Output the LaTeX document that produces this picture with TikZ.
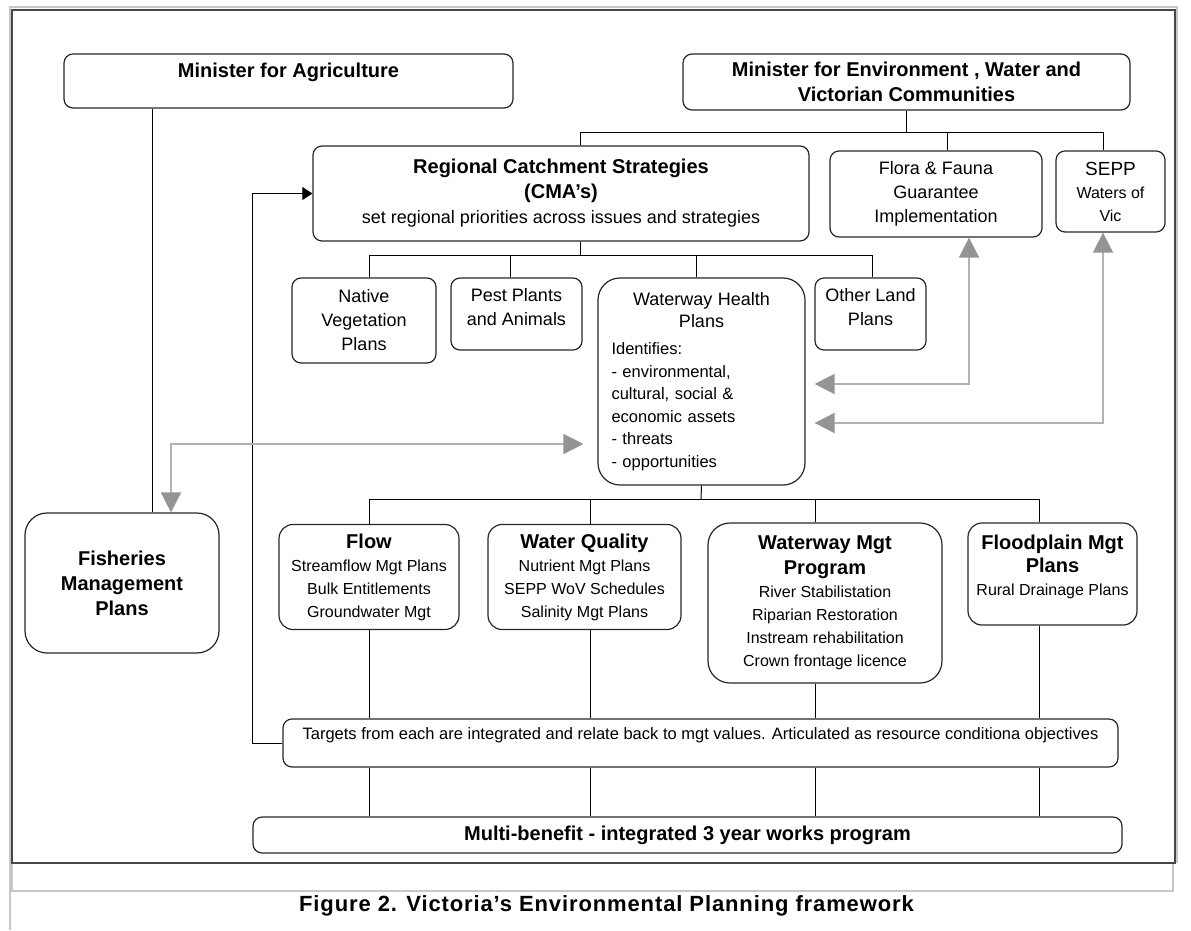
\documentclass[tikz,border=0pt]{standalone}
\usepackage{fontspec}
\setmainfont{Liberation Sans}
\usetikzlibrary{arrows.meta}

\newcommand\headtxt[1]{{\fontsize{20}{25}\selectfont\bfseries #1}}
\newcommand\bodytxt[1]{{\fontsize{18}{24}\selectfont\mdseries #1}}

\begin{document}
\begin{tikzpicture}[
x=1pt, y=-1pt,
box/.style={draw=black!85, line width=1.2pt, rounded corners=9pt, inner sep=0pt, align=center},
soft/.style={box, rounded corners=22pt},
link/.style={draw=black, line width=1pt},
duo/.style={draw=black!30, line width=1.6pt, {Triangle[length=20pt,width=20pt,color=black!42]}-{Triangle[length=20pt,width=20pt,color=black!42]}},
back/.style={draw=black, line width=1pt, -{Triangle[length=10pt,width=13pt]}},
head/.style={font=\fontsize{20}{25}\selectfont\bfseries},
body/.style={font=\fontsize{18}{24}\selectfont},
small/.style={font=\fontsize{16}{23}\selectfont}
]
\useasboundingbox (0,0) rectangle (1191,930);
\draw[black!22, line width=2pt] (10,930) -- (10,7) -- (1177,7) -- (1177,863);
\draw[black!22, line width=2pt] (12,863) -- (12,891) -- (1173,891) -- (1173,863);
\draw[black!72, line width=2pt] (12,10) rectangle (1175,863);

\node[box, head, minimum width=449pt, minimum height=54pt, text depth=22pt] (agri) at (288.5,81) {Minister for Agriculture};
\node[box, head, minimum width=447pt, minimum height=56pt] (env) at (906.5,82) {Minister for Environment , Water and\\Victorian Communities};
\node[box, font=\fontsize{20}{25}\selectfont, minimum width=496pt, minimum height=95pt] (rcs) at (561,193.5) {\headtxt{Regional Catchment Strategies}\\\headtxt{(CMA's)}\\\bodytxt{set regional priorities across issues and strategies}};
\node[box, body, minimum width=212pt, minimum height=86pt] (flora) at (936,194) {Flora \& Fauna\\Guarantee\\Implementation};
\node[box, small, minimum width=109pt, minimum height=81pt] (sepp) at (1110.5,191.5) {{\fontsize{19}{22}\selectfont SEPP}\\Waters of\\Vic};
\node[box, body, minimum width=144pt, minimum height=85pt] (native) at (364,320.5) {Native\\Vegetation\\Plans};
\node[box, body, minimum width=131pt, minimum height=72pt, text depth=15pt] (pest) at (516.5,314) {Pest Plants\\and Animals};
\node[soft, minimum width=207pt, minimum height=207pt, text width=180pt, align=left, font=\fontsize{16.5}{22.6}\selectfont] (whp) at (701.5,381.5) {\makebox[180pt]{\bodytxt{Waterway Health}}\\\makebox[180pt]{\bodytxt{Plans}}\\[4pt]Identifies:\\- environmental,\\cultural, social \&\\economic assets\\- threats\\- opportunities};
\node[box, body, minimum width=111pt, minimum height=72pt, text depth=15pt] (other) at (870.5,314) {Other Land\\Plans};
\node[soft, head, minimum width=194pt, minimum height=140pt] (fish) at (122,583) {Fisheries\\Management\\Plans};
\node[box, small, rounded corners=14pt, minimum width=180pt, minimum height=105pt] (flow) at (369,577) {\headtxt{Flow}\\Streamflow Mgt Plans\\Bulk Entitlements\\Groundwater Mgt};
\node[box, small, rounded corners=14pt, minimum width=193pt, minimum height=105pt] (wq) at (584.5,577) {\headtxt{Water Quality}\\Nutrient Mgt Plans\\SEPP WoV Schedules\\Salinity Mgt Plans};
\node[soft, small, minimum width=234pt, minimum height=160pt] (wmp) at (825,603) {\headtxt{Waterway Mgt}\\[2pt]\headtxt{Program}\\River Stabilistation\\Riparian Restoration\\Instream rehabilitation\\Crown frontage licence};
\node[box, small, rounded corners=14pt, minimum width=169pt, minimum height=102pt, text depth=17pt] (flood) at (1052.5,574) {\headtxt{Floodplain Mgt}\\\headtxt{Plans}\\Rural Drainage Plans};
\node[box, font=\fontsize{16.5}{20}\selectfont, minimum width=835pt, minimum height=48pt, text depth=19pt] (targets) at (700.5,743) {Targets from each are integrated and relate back to mgt values. Articulated as resource conditiona objectives};
\node[box, head, minimum width=869pt, minimum height=36pt] (multi) at (687.5,835) {Multi-benefit - integrated 3 year works program};
\node[font=\fontsize{22}{26}\selectfont\bfseries\addfontfeature{LetterSpace=4}] (caption) at (606.5,906) {Figure 2. Victoria's Environmental Planning framework};

\coordinate (envbus) at (906.5,132);
\coordinate (rcsbus) at (580,255);
\coordinate (whpbus) at (701,499);
\draw[link] (env.south) -- (envbus);
\draw[link] ([xshift=19pt]rcs.north) |- ([xshift=-7.5pt]sepp.north |- envbus) -- ([xshift=-7.5pt]sepp.north);
\draw[link] ([xshift=11pt]flora.north) -- ([xshift=11pt]flora.north |- envbus);
\draw[link] ([xshift=19pt]rcs.south) -- (rcsbus);
\draw[link] ([xshift=5pt]native.north) |- ([xshift=1.5pt]other.north |- rcsbus) -- ([xshift=1.5pt]other.north);
\draw[link] ([xshift=-6.5pt]pest.north) -- ([xshift=-6.5pt]pest.north |- rcsbus);
\draw[link] ([xshift=-5.5pt]whp.north) -- ([xshift=-5.5pt]whp.north |- rcsbus);
\draw[link] (whp.south) -- (whpbus);
\draw[link] (flow.north) |- ([xshift=-13.5pt]flood.north |- whpbus) -- ([xshift=-13.5pt]flood.north);
\draw[link] ([xshift=5.5pt]wq.north) -- ([xshift=5.5pt]wq.north |- whpbus);
\draw[link] ([xshift=-10pt]wmp.north) -- ([xshift=-10pt]wmp.north |- whpbus);
\foreach \n/\dx in {flow/0, wq/5.5, wmp/-10, flood/-13.5} {
  \draw[link] ([xshift=\dx pt]\n.south) -- ([xshift=\dx pt]\n.south |- targets.north);
  \draw[link] ([xshift=\dx pt]\n.south |- targets.south) -- ([xshift=\dx pt]\n.south |- multi.north);
}
\draw[link] ([xshift=30.5pt]fish.north) -- ([xshift=30.5pt]fish.north |- agri.south);
\draw[back] (targets.west) -- ++(-30,0) |- (rcs.west);

\draw[duo] ([shift={(9,2.5)}]whp.east) -| ([xshift=33pt]flora.south);
\draw[duo] ([shift={(9,41.5)}]whp.east) -| ([xshift=-7.5pt]sepp.south);
\draw[duo] ([shift={(-14,62.5)}]whp.west) -| ([xshift=49pt]fish.north);
\end{tikzpicture}
\end{document}
